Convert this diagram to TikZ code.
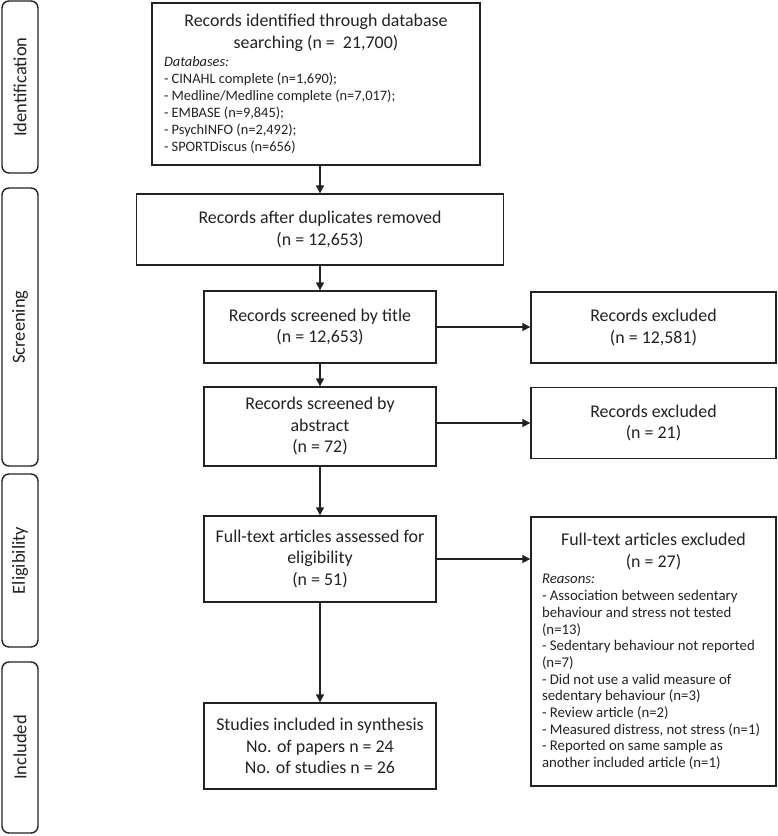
\documentclass[tikz,border=0pt]{standalone}
\usepackage{fontspec}
\setmainfont{Carlito}
\usetikzlibrary{arrows.meta}
\definecolor{ink}{HTML}{222222}
\tikzset{
  box/.style={draw=ink, line width=1.4pt, text=ink, inner sep=0pt, align=center,
    font=\fontsize{17.9}{21.5}\selectfont},
  side/.style={draw=ink, line width=1.4pt, rounded corners=7pt, rotate=90, text=ink,
    minimum height=36pt, inner sep=0pt, font=\fontsize{18.5}{22}\selectfont},
  arr/.style={draw=ink, line width=1.4pt, -{Triangle[length=8pt,width=8pt]}}
}
\begin{document}
\begin{tikzpicture}[x=1pt,y=-1pt]
\useasboundingbox (0,0) rectangle (778,836);

% side labels
\node[side, minimum width=172pt] (sid) at (20,87) {Identification};
\node[side, minimum width=278pt] (ssc) at (20,327) {Screening};
\node[side, minimum width=173pt] (sel) at (20,560.5) {Eligibility};
\node[side, minimum width=171pt] (sin) at (20,747.5) {Included};

% main column
\node[box, minimum width=328pt, minimum height=162pt, text width=304pt, align=none] (b1) at (316,84)
 {{\centering Records identified through database\\ searching (n = \ 21,700)\par}
  \vspace{1pt}
  \raggedright\fontsize{14.4}{17}\selectfont
  \textit{Databases:}\\
  - CINAHL complete (n=1,690);\\
  - Medline/Medline complete (n=7,017);\\
  - EMBASE (n=9,845);\\
  - PsychINFO (n=2,492);\\
  - SPORTDiscus (n=656)\par};

\node[box, minimum width=367pt, minimum height=71pt] (b2) at (320,229.5)
 {Records after duplicates removed\\(n = 12,653)};
\node[box, minimum width=232pt, minimum height=72pt] (b3) at (320,327)
 {Records screened by title\\(n = 12,653)};
\node[box, minimum width=232pt, minimum height=79pt] (b4) at (320,426.5)
 {Records screened by\\abstract\\(n = 72)};
\node[box, minimum width=232pt, minimum height=86pt] (b5) at (320,559)
 {Full-text articles assessed for\\eligibility\\(n = 51)};
\node[box, minimum width=232pt, minimum height=86pt] (b6) at (320,746)
 {Studies included in synthesis\\No. of papers n = 24\\No. of studies n = 26};

% right column
\node[box, minimum width=245pt, minimum height=71pt] (e1) at (653.5,327.5)
 {Records excluded\\(n = 12,581)};
\node[box, minimum width=245pt, minimum height=71pt] (e2) at (653.5,423)
 {Records excluded\\(n = 21)};
\node[box, minimum width=245pt, minimum height=269pt, text width=223pt, align=none] (e3) at (653.5,651.5)
 {{\centering Full-text articles excluded\\(n = 27)\par}
  \raggedright\fontsize{14.8}{16.7}\selectfont
  \textit{Reasons:}\\
  - Association between sedentary\\
  behaviour and stress not tested\\
  (n=13)\\
  - Sedentary behaviour not reported\\
  (n=7)\\
  - Did not use a valid measure of\\
  sedentary behaviour (n=3)\\
  - Review article (n=2)\\
  - Measured distress, not stress (n=1)\\
  - Reported on same sample as\\
  another included article (n=1)\par};

% connectors
\draw[arr] (b1.south -| b2.north) -- (b2.north);
\draw[arr] (b2.south -| b3.north) -- (b3.north);
\draw[arr] (b3) -- (b4);
\draw[arr] (b4) -- (b5);
\draw[arr] (b5) -- (b6);
\draw[arr] (b3.east) -- (b3.east -| e1.west);
\draw[arr] (b4.east |- e2.west) -- (e2.west);
\draw[arr] (b5.east) -- (b5.east -| e3.west);
\end{tikzpicture}
\end{document}
